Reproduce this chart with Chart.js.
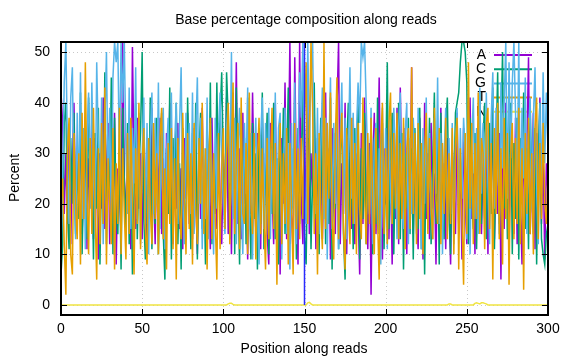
<!DOCTYPE html>
<html>
<head>
<meta charset="utf-8">
<script src="https://cdn.jsdelivr.net/npm/chart.js@4.4.0/dist/chart.umd.min.js"></script>
<style>
  html, body { margin: 0; padding: 0; background: #fff; }
  #wrap { width: 576px; height: 360px; }
</style>
</head>
<body>
<div id="wrap"><canvas id="chart" width="576" height="360"></canvas></div>
<script>
// Base composition per read position (percent)
const seriesA = [
  42, 36, 18, 30, 16, 34, 12, 28, 40, 17, 31, 22, 38, 14, 27, 35, 11, 29, 20, 37,
  13, 33, 24, 9, 30, 19, 41, 15, 26, 36, 12, 32, 18, 38, 8, 27, 22, 14, 52, 25,
  16, 34, 21, 11, 51, 28, 15, 37, 19, 30, 13, 35, 22, 10, 31, 17, 39, 24, 12, 33,
  20, 37, 14, 29, 9, 34, 18, 40, 23, 12, 31, 19, 36, 15, 27, 11, 33, 21, 38, 16,
  29, 13, 35, 22, 10, 32, 17, 39, 20, 14, 34, 25, 11, 37, 18, 28, 15, 36, 21, 12,
  30, 19, 41, 14, 27, 10, 35, 22, 48, 16, 31, 13, 38, 20, 26, 9, 33, 18, 42, 24,
  15, 34, 21, 11, 37, 19, 30, 14, 8, 36, 23, 12, 40, 17, 29, 6, 33, 20, 44, 13,
  27, 52, 18, 10, 49, 25, 8, 52, 21, 12, 35, 17, 41, 14, 30, 22, 38, 11, 29, 19,
  36, 13, 26, 42, 16, 31, 9, 35, 20, 14, 39, 52, 12, 28, 18, 40, 10, 33, 23, 15,
  37, 12, 30, 19, 6, 34, 16, 41, 22, 11, 32, 2, 27, 38, 14, 25, 45, 18, 9, 31,
  20, 36, 13, 28, 8, 33, 17, 39, 12, 43, 24, 15, 35, 10, 29, 21, 47, 14, 32, 18,
  11, 37, 24, 9, 40, 17, 30, 13, 36, 19, 26, 8, 34, 21, 39, 15, 28, 11, 33, 20,
  8, 31, 23, 14, 38, 16, 29, 9, 35, 20, 12, 30, 41, 17, 26, 10, 34, 19, 38, 14,
  28, 17, 36, 10, 31, 22, 39, 13, 27, 18, 34, 5, 30, 15, 40, 24, 11, 33, 21, 14,
  37, 12, 29, 20, 8, 35, 17, 31, 49, 14, 27, 38, 11, 34, 19, 41, 16, 30, 9, 28,
  22
];
const seriesC = [
  6, 12, 36, 40, 18, 11, 33, 20, 38, 14, 29, 17, 42, 10, 26, 35, 13, 41, 22, 31,
  9, 34, 19, 39, 8, 28, 16, 46, 12, 33, 21, 45, 10, 37, 18, 14, 31, 7, 39, 24,
  15, 36, 12, 30, 6, 22, 40, 13, 27, 34, 50, 17, 9, 32, 20, 41, 11, 29, 16, 37,
  10, 26, 38, 14, 5, 31, 18, 43, 9, 33, 19, 40, 12, 28, 7, 35, 22, 13, 41, 25,
  11, 34, 17, 40, 9, 30, 38, 15, 27, 8, 36, 20, 44, 12, 29, 18, 44, 24, 37, 46,
  28, 15, 46, 37, 13, 31, 42, 10, 43, 24, 8, 38, 19, 33, 12, 41, 22, 9, 36, 17,
  30, 7, 35, 16, 42, 11, 27, 38, 10, 32, 18, 40, 13, 29, 8, 34, 21, 39, 14, 28,
  43, 12, 31, 19, 40, 9, 35, 16, 27, 44, 14, 8, 30, 38, 11, 25, 44, 17, 33, 10,
  37, 20, 42, 12, 29, 16, 41, 7, 34, 19, 39, 11, 30, 36, 14, 5, 31, 40, 15, 27,
  11, 35, 18, 42, 9, 31, 17, 38, 12, 29, 21, 37, 10, 33, 16, 41, 14, 28, 36, 11,
  27, 48, 15, 32, 38, 10, 29, 17, 40, 13, 34, 7, 30, 19, 37, 14, 31, 9, 35, 22,
  15, 39, 11, 30, 6, 34, 18, 37, 12, 28, 42, 16, 32, 8, 38, 21, 13, 35, 41, 19,
  10, 31, 22, 38, 40, 42, 48, 52, 52, 50, 44, 12, 37, 21, 15, 34, 11, 30, 42, 16,
  33, 40, 13, 28, 36, 18, 43, 11, 31, 46, 16, 34, 50, 19, 38, 13, 29, 40, 10, 32,
  17, 37, 9, 33, 20, 42, 15, 31, 11, 39, 24, 14, 35, 8, 30, 40, 13, 10, 8, 14,
  16
];
const seriesG = [
  10, 25, 44, 52, 30, 16, 41, 47, 22, 13, 38, 21, 46, 17, 35, 11, 33, 42, 19, 44,
  26, 14, 48, 32, 19, 41, 12, 36, 50, 23, 39, 16, 45, 52, 48, 52, 28, 52, 40, 52,
  31, 18, 43, 15, 35, 24, 47, 17, 38, 12, 30, 41, 16, 36, 10, 33, 42, 18, 37, 20,
  44, 15, 34, 39, 11, 30, 37, 19, 42, 14, 32, 40, 16, 35, 47, 21, 12, 38, 25, 36,
  18, 42, 14, 34, 45, 20, 37, 11, 31, 17, 41, 13, 36, 24, 10, 37, 19, 34, 42, 29,
  20, 14, 35, 40, 24, 50, 17, 37, 12, 31, 39, 20, 10, 36, 22, 43, 15, 34, 9, 28,
  37, 19, 8, 33, 41, 15, 36, 22, 39, 13, 31, 18, 42, 16, 35, 38, 9, 27, 39, 14,
  32, 7, 36, 18, 44, 12, 30, 46, 37, 52, 21, 16, 52, 33, 45, 52, 27, 18, 39, 14,
  31, 43, 17, 37, 9, 30, 45, 15, 36, 20, 40, 11, 33, 44, 18, 37, 13, 30, 47, 21,
  38, 16, 34, 44, 36, 52, 49, 52, 40, 27, 18, 39, 12, 32, 36, 15, 31, 8, 39, 19,
  35, 11, 37, 21, 16, 39, 30, 13, 35, 42, 19, 15, 34, 40, 12, 33, 18, 37, 28, 14,
  39, 26, 11, 35, 20, 41, 15, 34, 18, 13, 37, 22, 45, 16, 34, 10, 29, 39, 14, 33,
  18, 36, 12, 31, 39, 15, 35, 21, 37, 30, 13, 36, 10, 32, 41, 17, 35, 14, 43, 22,
  36, 15, 42, 24, 12, 37, 46, 19, 39, 30, 14, 44, 27, 40, 52, 21, 48, 29, 44, 52,
  38, 23, 52, 17, 39, 25, 45, 14, 34, 41, 19, 37, 47, 24, 12, 40, 22, 46, 28, 42,
  30
];
const seriesT = [
  20, 25, 12, 2, 31, 37, 10, 6, 34, 19, 13, 30, 8, 38, 17, 48, 22, 10, 33, 14,
  39, 18, 5, 31, 12, 36, 16, 43, 8, 29, 20, 12, 35, 7, 28, 16, 39, 10, 31, 18,
  9, 34, 14, 37, 21, 6, 31, 16, 40, 11, 28, 35, 15, 8, 33, 19, 12, 36, 17, 30,
  10, 33, 39, 13, 27, 7, 32, 16, 35, 11, 29, 5, 33, 18, 13, 38, 21, 10, 34, 15,
  30, 8, 36, 19, 12, 33, 20, 40, 14, 31, 7, 28, 37, 13, 30, 17, 5, 34, 11, 27,
  35, 15, 30, 40, 12, 32, 44, 14, 28, 36, 11, 41, 18, 16, 32, 10, 42, 20, 14, 34,
  9, 29, 37, 14, 31, 17, 7, 33, 13, 28, 39, 15, 32, 4, 27, 36, 12, 30, 16, 35,
  8, 32, 20, 6, 36, 15, 31, 13, 33, 17, 37, 48, 16, 34, 52, 39, 14, 30, 6, 34,
  19, 11, 52, 15, 36, 21, 42, 17, 9, 33, 45, 13, 31, 38, 15, 7, 35, 19, 12, 37,
  16, 32, 10, 36, 19, 13, 41, 22, 12, 34, 16, 37, 20, 10, 35, 17, 5, 32, 40, 14,
  31, 12, 36, 42, 16, 34, 19, 38, 13, 32, 17, 37, 11, 31, 35, 15, 47, 18, 34, 12,
  36, 17, 32, 10, 30, 38, 14, 33, 19, 13, 39, 21, 16, 35, 12, 32, 18, 37, 13, 30,
  16, 35, 10, 32, 37, 7, 31, 17, 4, 34, 14, 48, 19, 36, 12, 32, 17, 42, 14, 33,
  30, 11, 36, 39, 15, 32, 5, 35, 18, 40, 13, 31, 8, 37, 17, 34, 4, 30, 36, 13,
  33, 16, 39, 12, 31, 3, 34, 18, 37, 14, 30, 10, 35, 41, 13, 32, 17, 36, 20, 16,
  27
];
const seriesN = [
  0, 0, 0, 0, 0, 0, 0, 0, 0, 0, 0, 0, 0, 0, 0, 0, 0, 0, 0, 0,
  0, 0, 0, 0, 0, 0, 0, 0, 0, 0, 0, 0, 0, 0, 0, 0, 0, 0, 0, 0,
  0, 0, 0, 0, 0, 0, 0, 0, 0, 0, 0, 0, 0, 0, 0, 0, 0, 0, 0, 0,
  0, 0, 0, 0, 0, 0, 0, 0, 0, 0, 0, 0, 0, 0, 0, 0, 0, 0, 0, 0,
  0, 0, 0, 0, 0, 0, 0, 0, 0, 0, 0, 0, 0, 0, 0, 0, 0, 0, 0, 0,
  0, 0, 0, 0.2, 0.3, 0.3, 0.1, 0, 0, 0, 0, 0, 0, 0, 0, 0, 0, 0, 0, 0,
  0, 0, 0, 0, 0, 0, 0, 0, 0, 0, 0, 0, 0, 0, 0, 0, 0, 0, 0, 0,
  0, 0, 0, 0, 0, 0, 0, 0, 0, 0, 0, 0, 0.4, 0.5, 0.2, 0, 0, 0, 0, 0,
  0, 0, 0, 0, 0, 0, 0, 0, 0, 0, 0, 0, 0, 0, 0, 0, 0, 0, 0, 0,
  0, 0, 0, 0, 0, 0, 0, 0, 0, 0, 0, 0, 0, 0, 0, 0, 0, 0, 0, 0,
  0, 0, 0, 0, 0, 0, 0, 0, 0, 0, 0, 0, 0, 0, 0, 0, 0, 0, 0, 0,
  0, 0, 0, 0, 0, 0, 0, 0, 0, 0, 0, 0, 0, 0, 0, 0, 0, 0, 0, 0.2,
  0.2, 0, 0, 0, 0, 0, 0, 0, 0, 0, 0, 0, 0, 0, 0, 0.3, 0.4, 0.3, 0.2, 0.4,
  0.4, 0.3, 0.2, 0, 0, 0, 0, 0, 0, 0, 0, 0, 0, 0, 0, 0, 0, 0, 0, 0,
  0, 0, 0, 0, 0, 0, 0, 0, 0, 0, 0, 0, 0, 0, 0, 0, 0, 0, 0, 0,
  0
];
// blue marker line at position 150
const markerX = [150, 150];
const markerY = [0, 52];

const xTicks = [0, 50, 100, 150, 200, 250, 300];
const yTicks = [0, 10, 20, 30, 40, 50];
const legendLabels = ['A', 'C', 'G', 'T', 'N'];
const colors = ['#9400d3', '#009e73', '#56b4e9', '#e69f00', '#f0e442'];

const FONT = '"Liberation Sans", Arial, sans-serif';

function toPoints(values) {
    return values.map((v, i) => ({ x: i, y: v }));
}

const allSeries = [seriesA, seriesC, seriesG, seriesT, seriesN];

const datasets = allSeries.map((values, i) => ({
    label: legendLabels[i],
    data: toPoints(values),
    borderColor: colors[i],
    borderWidth: 1.5,
    pointRadius: 0,
    tension: 0,
    fill: false,
    order: 5 - i
}));

datasets.push({
    label: 'marker',
    data: markerX.map((x, i) => ({ x: x, y: markerY[i] })),
    borderColor: '#2a2aff',
    borderWidth: 1.5,
    pointRadius: 0,
    order: 0
});

// gnuplot-like frame, grid, inward ticks, key and titles
const gnuplotDecor = {
    id: 'gnuplotDecor',
    beforeDatasetsDraw(chart) {
        const { ctx, chartArea: a, scales } = chart;
        ctx.save();
        ctx.strokeStyle = '#c8c8c8';
        ctx.lineWidth = 1;
        ctx.setLineDash([1, 3]);
        xTicks.forEach(t => {
            if (t === 0 || t === 300) return;
            const x = Math.round(scales.x.getPixelForValue(t)) + 0.5;
            ctx.beginPath(); ctx.moveTo(x, a.top); ctx.lineTo(x, a.bottom); ctx.stroke();
        });
        yTicks.forEach(t => {
            const y = Math.round(scales.y.getPixelForValue(t)) + 0.5;
            ctx.beginPath(); ctx.moveTo(a.left, y); ctx.lineTo(a.right, y); ctx.stroke();
        });
        ctx.setLineDash([]);

        // key
        ctx.font = '14px ' + FONT;
        ctx.fillStyle = '#000';
        ctx.textAlign = 'right';
        ctx.textBaseline = 'middle';
        legendLabels.forEach((lab, i) => {
            const y = 55 + i * 14.2;
            ctx.fillText(lab, 486, y);
            ctx.strokeStyle = colors[i];
            ctx.lineWidth = 2;
            ctx.beginPath(); ctx.moveTo(494, y); ctx.lineTo(532, y); ctx.stroke();
        });
        ctx.restore();
    },
    afterDatasetsDraw(chart) {
        const { ctx, chartArea: a, scales } = chart;
        ctx.save();
        ctx.strokeStyle = '#000';
        ctx.lineWidth = 1;
        xTicks.forEach(t => {
            const x = Math.round(scales.x.getPixelForValue(t)) + 0.5;
            ctx.beginPath();
            ctx.moveTo(x, a.bottom); ctx.lineTo(x, a.bottom - 6);
            ctx.moveTo(x, a.top); ctx.lineTo(x, a.top + 6);
            ctx.stroke();
        });
        yTicks.forEach(t => {
            const y = Math.round(scales.y.getPixelForValue(t)) + 0.5;
            ctx.beginPath();
            ctx.moveTo(a.left, y); ctx.lineTo(a.left + 6, y);
            ctx.moveTo(a.right, y); ctx.lineTo(a.right - 6, y);
            ctx.stroke();
        });
        ctx.lineWidth = 2;
        ctx.strokeRect(a.left, a.top, a.right - a.left, a.bottom - a.top);

        // titles
        ctx.fillStyle = '#000';
        ctx.textAlign = 'center';
        ctx.textBaseline = 'middle';
        ctx.font = '14px ' + FONT;
        ctx.fillText('Base percentage composition along reads', 306, 20);
        ctx.fillText('Position along reads', 304, 349);
        ctx.translate(15, 178);
        ctx.rotate(-Math.PI / 2);
        ctx.fillText('Percent', 0, 0);
        ctx.restore();
    }
};

document.addEventListener('DOMContentLoaded', function() {
    const ctx = document.getElementById('chart').getContext('2d');
    new Chart(ctx, {
        type: 'line',
        data: { datasets: datasets },
        plugins: [gnuplotDecor],
        options: {
            responsive: false,
            animation: false,
            devicePixelRatio: 1,
            layout: { padding: { left: 0, right: 28, top: 42, bottom: 0 } },
            plugins: {
                legend: { display: false },
                title: { display: false },
                tooltip: { enabled: false }
            },
            scales: {
                x: {
                    type: 'linear',
                    min: 0,
                    max: 300,
                    afterBuildTicks: scale => { scale.ticks = xTicks.map(v => ({ value: v })); },
                    afterFit: scale => { scale.height = 45; },
                    grid: { display: false, drawTicks: false },
                    border: { display: false },
                    ticks: {
                        padding: 6,
                        maxRotation: 0,
                        color: '#000',
                        font: { family: FONT, size: 14 }
                    }
                },
                y: {
                    min: -2,
                    max: 52,
                    afterBuildTicks: scale => { scale.ticks = yTicks.map(v => ({ value: v })); },
                    afterFit: scale => { scale.width = 61; },
                    grid: { display: false, drawTicks: false },
                    border: { display: false },
                    ticks: {
                        padding: 11,
                        color: '#000',
                        font: { family: FONT, size: 14 }
                    }
                }
            }
        }
    });
});
</script>
</body>
</html>
